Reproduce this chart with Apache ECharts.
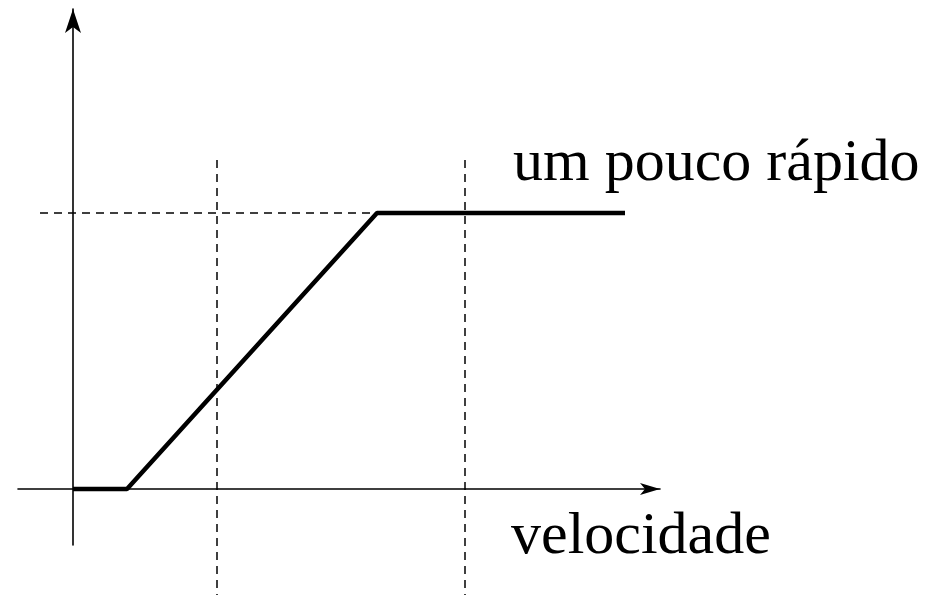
<!DOCTYPE html>
<html>
<head>
<meta charset="utf-8">
<script src="https://cdn.jsdelivr.net/npm/echarts@6/dist/echarts.min.js"></script>
<style>
  html, body { margin: 0; padding: 0; background: #fff; }
  #chart { width: 942px; height: 595px; }
</style>
</head>
<body>
<div id="chart"></div>
<script>
// membership function "um pouco rápido" over velocidade
const speedPoints = [0, 5.4, 30.4, 55.2];
const membership = [0, 0, 1, 1];
const guideX = [14.4, 39.2];      // vertical dashed guides
const guideLevel = 1;             // horizontal dashed guide
const curveLabel = "um pouco rápido";
const axisLabel = "velocidade";

const chart = echarts.init(document.getElementById("chart"));

const dashed = { color: "#000", width: 1.5, type: [8, 6] };

const series = [
  {
    type: "line",
    data: speedPoints.map((x, i) => [x, membership[i]]),
    symbol: "none",
    lineStyle: { color: "#000", width: 4.5 },
    z: 5
  },
  {
    type: "line",
    data: [[-3.3, guideLevel], [41.2, guideLevel]],
    symbol: "none",
    clip: false,
    lineStyle: dashed
  }
];
guideX.forEach(x => {
  series.push({
    type: "line",
    data: [[x, 1.192], [x, -0.39]],
    symbol: "none",
    clip: false,
    lineStyle: dashed
  });
});

chart.setOption({
  animation: false,
  grid: { left: 18, top: 9, width: 642, height: 536 },
  xAxis: {
    type: "value",
    min: -5.5,
    max: 58.7,
    axisLine: {
      onZero: true,
      symbol: ["none", "arrow"],
      symbolSize: [9, 20],
      lineStyle: { color: "#000", width: 1.6 }
    },
    axisTick: { show: false },
    axisLabel: { show: false },
    splitLine: { show: false }
  },
  yAxis: {
    type: "value",
    min: -0.2029,
    max: 1.739,
    axisLine: {
      onZero: true,
      symbol: ["none", "arrow"],
      symbolSize: [12, 24],
      lineStyle: { color: "#000", width: 1.6 }
    },
    axisTick: { show: false },
    axisLabel: { show: false },
    splitLine: { show: false }
  },
  graphic: [
    {
      type: "text",
      left: 513,
      top: 134,
      style: {
        text: curveLabel,
        font: "60px 'Liberation Serif', 'DejaVu Serif', serif",
        fill: "#000"
      }
    },
    {
      type: "text",
      left: 511,
      top: 507,
      style: {
        text: axisLabel,
        font: "60px 'Liberation Serif', 'DejaVu Serif', serif",
        fill: "#000"
      }
    }
  ],
  series: series
});
</script>
</body>
</html>
